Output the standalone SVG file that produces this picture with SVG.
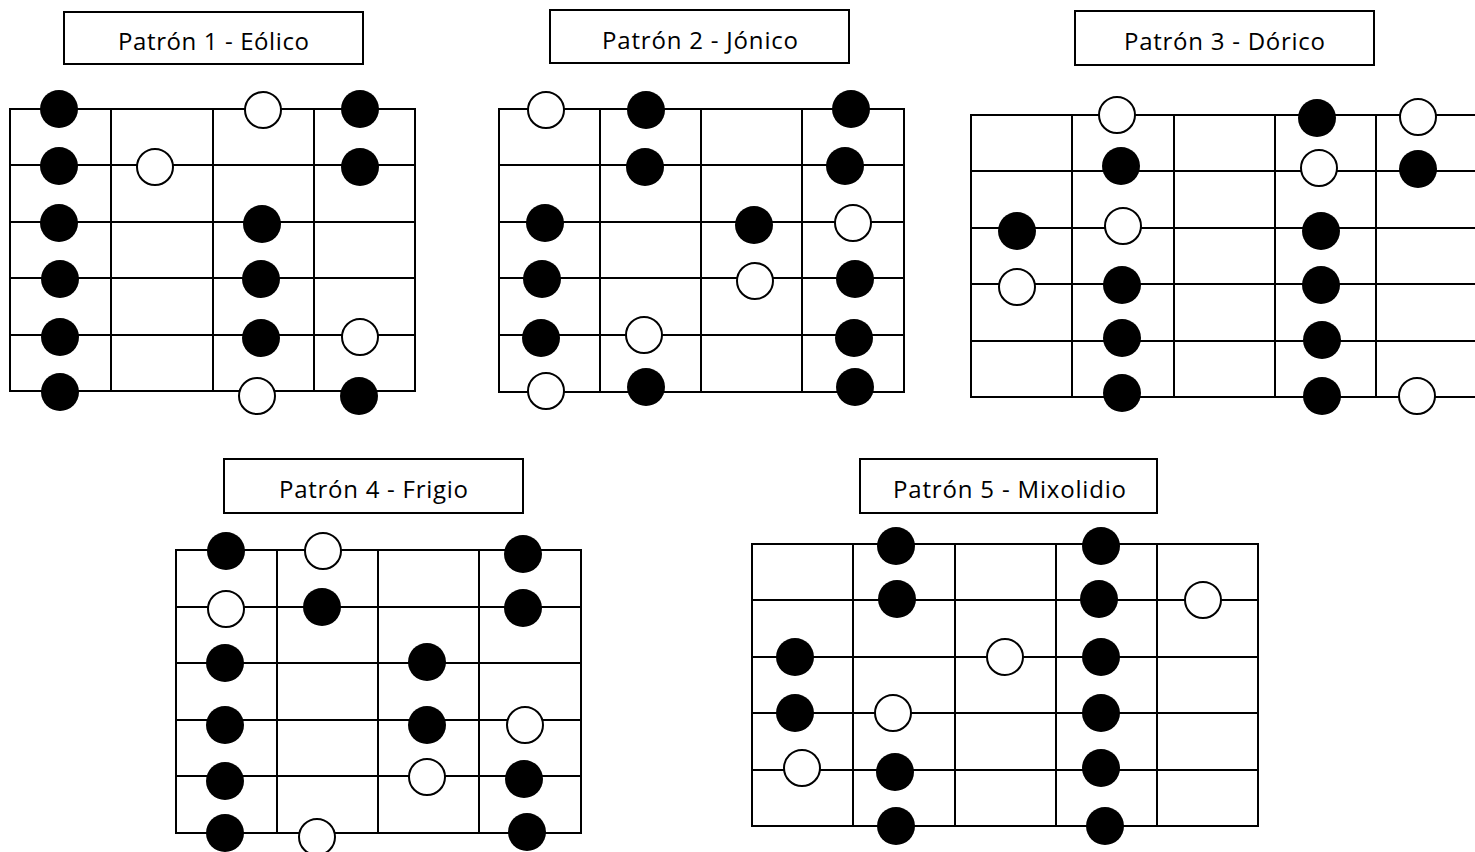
<svg xmlns="http://www.w3.org/2000/svg" width="1475" height="852" viewBox="0 0 1475 852">
<style>
.bg{fill:#fff}
.box{fill:#fff;stroke:#000;stroke-width:2}
.title{font-family:"Open Sans","Noto Sans","Liberation Sans",sans-serif;font-size:24px;fill:#000;text-anchor:middle}
.grid{fill:none;stroke:#000;stroke-width:2}
.f{fill:#000}
.o{fill:#fff;stroke:#000;stroke-width:2}
</style>
<rect class="bg" x="0" y="0" width="1475" height="852"/>
<g id="pattern1">
  <rect class="box" x="64" y="12" width="299" height="52"/>
  <text class="title" x="213.5" y="50" textLength="191" lengthAdjust="spacing">Patrón 1 - Eólico</text>
  <rect class="grid" x="10" y="109" width="405" height="282"/>
  <path class="grid" d="M111 109V391M213 109V391M314 109V391M10 165H415M10 222H415M10 278H415M10 335H415"/>
  <circle class="f" cx="59" cy="109" r="19"/><circle class="o" cx="263" cy="110" r="18"/><circle class="f" cx="360" cy="109" r="19"/>
  <circle class="f" cx="59" cy="166" r="19"/><circle class="o" cx="155" cy="167" r="18"/><circle class="f" cx="360" cy="167" r="19"/>
  <circle class="f" cx="59" cy="223" r="19"/><circle class="f" cx="262" cy="224" r="19"/>
  <circle class="f" cx="60" cy="279" r="19"/><circle class="f" cx="261" cy="279" r="19"/>
  <circle class="f" cx="60" cy="337" r="19"/><circle class="f" cx="261" cy="338" r="19"/><circle class="o" cx="360" cy="337" r="18"/>
  <circle class="f" cx="60" cy="392" r="19"/><circle class="o" cx="257" cy="396" r="18"/><circle class="f" cx="359" cy="396" r="19"/>
</g>
<g id="pattern2">
  <rect class="box" x="550" y="10" width="299" height="53"/>
  <text class="title" x="700" y="49" textLength="196" lengthAdjust="spacing">Patrón 2 - Jónico</text>
  <rect class="grid" x="499" y="109" width="405" height="283"/>
  <path class="grid" d="M600 109V392M701 109V392M802 109V392M499 165H904M499 222H904M499 278H904M499 335H904"/>
  <circle class="o" cx="546" cy="110" r="18"/><circle class="f" cx="646" cy="110" r="19"/><circle class="f" cx="851" cy="109" r="19"/>
  <circle class="f" cx="645" cy="167" r="19"/><circle class="f" cx="845" cy="166" r="19"/>
  <circle class="f" cx="545" cy="223" r="19"/><circle class="f" cx="754" cy="225" r="19"/><circle class="o" cx="853" cy="223" r="18"/>
  <circle class="f" cx="542" cy="279" r="19"/><circle class="o" cx="755" cy="281" r="18"/><circle class="f" cx="855" cy="279" r="19"/>
  <circle class="f" cx="541" cy="338" r="19"/><circle class="o" cx="644" cy="335" r="18"/><circle class="f" cx="854" cy="338" r="19"/>
  <circle class="o" cx="546" cy="391" r="18"/><circle class="f" cx="646" cy="387" r="19"/><circle class="f" cx="855" cy="387" r="19"/>
</g>
<g id="pattern3">
  <rect class="box" x="1075" y="11" width="299" height="54"/>
  <text class="title" x="1224.5" y="50" textLength="201" lengthAdjust="spacing">Patrón 3 - Dórico</text>
  <rect class="grid" x="971" y="115" width="506" height="282"/>
  <path class="grid" d="M1072 115V397M1174 115V397M1275 115V397M1376 115V397M971 171H1477M971 228H1477M971 284H1477M971 341H1477"/>
  <circle class="o" cx="1117" cy="115" r="18"/><circle class="f" cx="1317" cy="118" r="19"/><circle class="o" cx="1418" cy="117" r="18"/>
  <circle class="f" cx="1121" cy="166" r="19"/><circle class="o" cx="1319" cy="168" r="18"/><circle class="f" cx="1418" cy="169" r="19"/>
  <circle class="f" cx="1017" cy="231" r="19"/><circle class="o" cx="1123" cy="226" r="18"/><circle class="f" cx="1321" cy="231" r="19"/>
  <circle class="o" cx="1017" cy="287" r="18"/><circle class="f" cx="1122" cy="285" r="19"/><circle class="f" cx="1321" cy="285" r="19"/>
  <circle class="f" cx="1122" cy="338" r="19"/><circle class="f" cx="1322" cy="340" r="19"/>
  <circle class="f" cx="1122" cy="393" r="19"/><circle class="f" cx="1322" cy="396" r="19"/><circle class="o" cx="1417" cy="396" r="18"/>
</g>
<g id="pattern4">
  <rect class="box" x="224" y="459" width="299" height="54"/>
  <text class="title" x="373.5" y="498" textLength="189" lengthAdjust="spacing">Patrón 4 - Frigio</text>
  <rect class="grid" x="176" y="550" width="405" height="283"/>
  <path class="grid" d="M277 550V833M378 550V833M479 550V833M176 607H581M176 663H581M176 720H581M176 776H581"/>
  <circle class="f" cx="226" cy="551" r="19"/><circle class="o" cx="323" cy="551" r="18"/><circle class="f" cx="523" cy="554" r="19"/>
  <circle class="o" cx="226" cy="609" r="18"/><circle class="f" cx="322" cy="607" r="19"/><circle class="f" cx="523" cy="608" r="19"/>
  <circle class="f" cx="225" cy="663" r="19"/><circle class="f" cx="427" cy="662" r="19"/>
  <circle class="f" cx="225" cy="725" r="19"/><circle class="f" cx="427" cy="725" r="19"/><circle class="o" cx="525" cy="725" r="18"/>
  <circle class="f" cx="225" cy="781" r="19"/><circle class="o" cx="427" cy="777" r="18"/><circle class="f" cx="524" cy="779" r="19"/>
  <circle class="f" cx="225" cy="833" r="19"/><circle class="o" cx="317" cy="837" r="18"/><circle class="f" cx="527" cy="832" r="19"/>
</g>
<g id="pattern5">
  <rect class="box" x="860" y="459" width="297" height="54"/>
  <text class="title" x="1009.5" y="498" textLength="233" lengthAdjust="spacing">Patrón 5 - Mixolidio</text>
  <rect class="grid" x="752" y="544" width="506" height="282"/>
  <path class="grid" d="M853 544V826M955 544V826M1056 544V826M1157 544V826M752 600H1258M752 657H1258M752 713H1258M752 770H1258"/>
  <circle class="f" cx="896" cy="546" r="19"/><circle class="f" cx="1101" cy="546" r="19"/>
  <circle class="f" cx="897" cy="599" r="19"/><circle class="f" cx="1099" cy="599" r="19"/><circle class="o" cx="1203" cy="600" r="18"/>
  <circle class="f" cx="795" cy="657" r="19"/><circle class="o" cx="1005" cy="657" r="18"/><circle class="f" cx="1101" cy="657" r="19"/>
  <circle class="f" cx="795" cy="713" r="19"/><circle class="o" cx="893" cy="713" r="18"/><circle class="f" cx="1101" cy="713" r="19"/>
  <circle class="o" cx="802" cy="768" r="18"/><circle class="f" cx="895" cy="772" r="19"/><circle class="f" cx="1101" cy="768" r="19"/>
  <circle class="f" cx="896" cy="826" r="19"/><circle class="f" cx="1105" cy="826" r="19"/>
</g>
<g id="connectors"></g>
</svg>
